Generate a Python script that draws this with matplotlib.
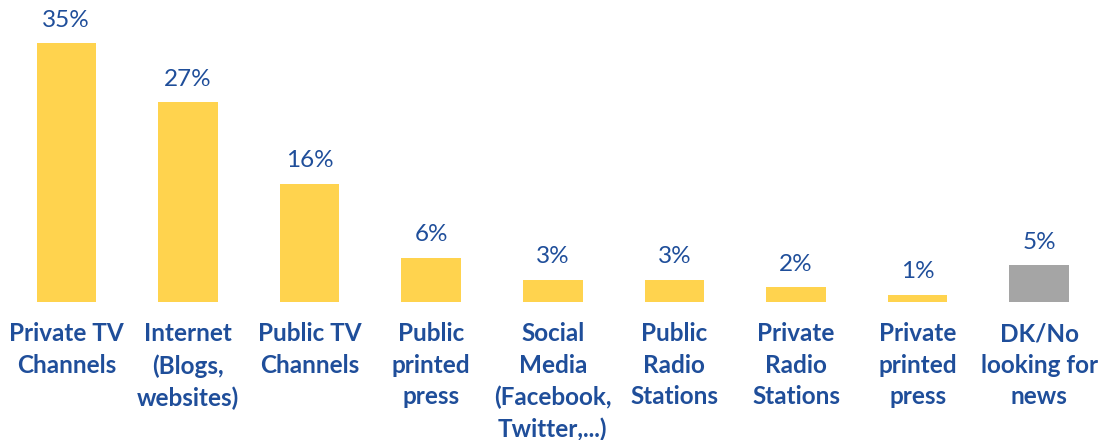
import matplotlib
matplotlib.use("Agg")
import matplotlib.pyplot as plt

plt.rcParams['font.family'] = ['Lato', 'DejaVu Sans']

# Main source of news, share of respondents
categories = [
    "Private TV\nChannels",
    "Internet\n(Blogs,\nwebsites)",
    "Public TV\nChannels",
    "Public\nprinted\npress",
    "Social\nMedia\n(Facebook,\nTwitter,...)",
    "Public\nRadio\nStations",
    "Private\nRadio\nStations",
    "Private\nprinted\npress",
    "DK/No\nlooking for\nnews",
]
shares = [35, 27, 16, 6, 3, 3, 2, 1, 5]
bar_colors = ["#FFD34E"] * 8 + ["#A5A5A5"]

TEXT_BLUE = "#1F4E9A"

fig = plt.figure(figsize=(11, 4.4), dpi=100)
ax = fig.add_axes([0.005, 0.3136, 0.995, 0.672])

x = list(range(len(categories)))
bars = ax.bar(x, shares, width=0.49, color=bar_colors)

for rect, v in zip(bars, shares):
    ax.annotate(f"{v}%", (rect.get_x() + rect.get_width() / 2, rect.get_height()),
                xytext=(0, 9), textcoords="offset points",
                ha="center", va="bottom", fontsize=17.5, color=TEXT_BLUE)

ax.set_xlim(-0.5, len(categories) - 0.5)
ax.set_ylim(0, 40)
ax.set_xticks(x)
ax.set_xticklabels(categories, fontsize=17.5, fontweight="bold", color=TEXT_BLUE,
                   linespacing=1.45, va="top")
ax.tick_params(axis="x", length=0, pad=14.5)
ax.set_yticks([])
for s in ax.spines.values():
    s.set_visible(False)

fig.savefig("out.png", dpi=100, facecolor="white")
